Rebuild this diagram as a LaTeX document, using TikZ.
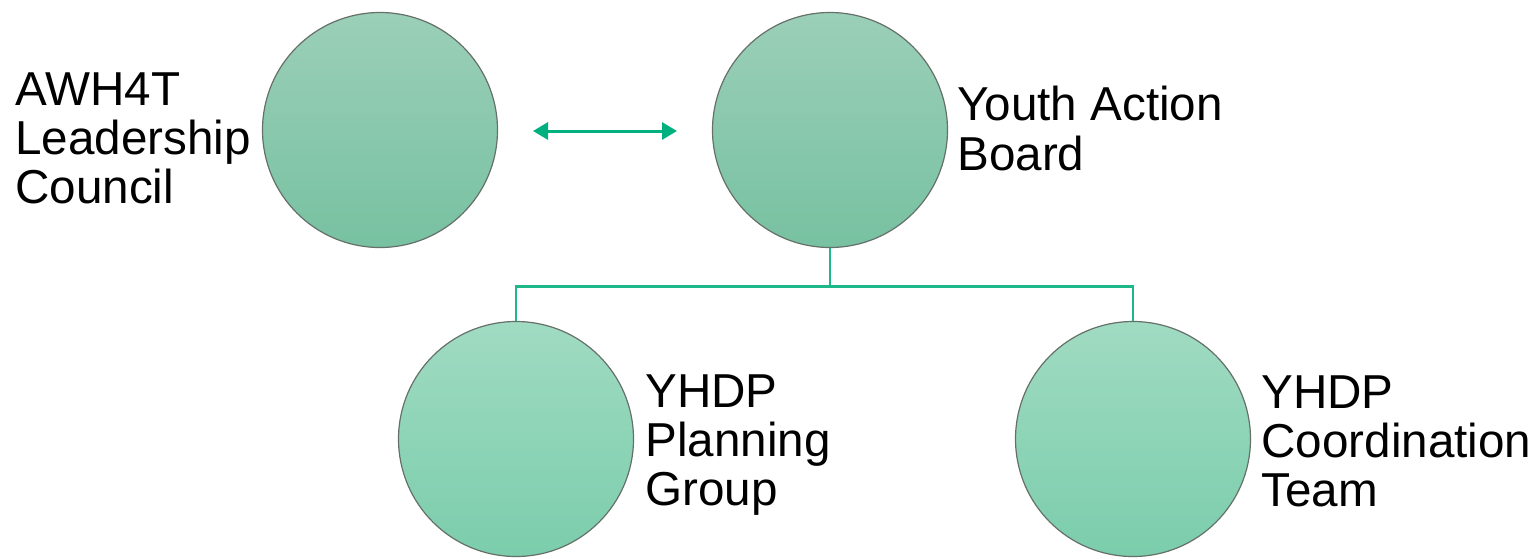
\documentclass[tikz,border=0pt]{standalone}
\usepackage{fontspec}
\setmainfont{Liberation Sans}
\usepackage{xcolor}
\usetikzlibrary{arrows.meta,positioning}

\definecolor{linkgreen}{HTML}{1DB78A}
\definecolor{arrowgreen}{HTML}{00B07F}
\definecolor{topA}{HTML}{9BCFB8}
\definecolor{botA}{HTML}{77C1A1}
\definecolor{topB}{HTML}{A0DBC2}
\definecolor{botB}{HTML}{7BCDAC}
\definecolor{rimgray}{HTML}{66706A}

\begin{document}
\begin{tikzpicture}[x=0.5pt, y=-0.5pt,
    unit/.style={draw=rimgray, line width=0.6pt, circle, minimum size=117.5pt, inner sep=0pt},
    label/.style={anchor=north west, inner sep=0pt, align=left, font=\fontsize{23.8pt}{24.6pt}\selectfont},
    link/.style={draw=linkgreen, line width=1.4pt}]
    \useasboundingbox (0,0) rectangle (1537,558);

    % Top row
    \node[unit, top color=topA, bottom color=botA] (awh) at (380,130) {};
    \node[unit, top color=topA, bottom color=botA] (yab) at (830,130) {};
    \node[label] (awhtext) at (15,72) {AWH4T\\Leadership\\Council};
    \node[label] (yabtext) at (957,86) {Youth Action\\Board};

    % Two-way link
    \coordinate (awhend) at (533,131);
    \coordinate (yabend) at (677,131);
    \draw[arrowgreen, line width=1.5pt, {Triangle[length=7.5pt, width=8.5pt]}-{Triangle[length=7.5pt, width=8.5pt]}] (awhend) -- (yabend);

    % Bottom row
    \node[unit, top color=topB, bottom color=botB] (ypg) at (516,439) {};
    \node[unit, top color=topB, bottom color=botB] (yct) at (1133,439) {};
    \node[label] (ypgtext) at (645,374) {YHDP\\Planning\\Group};
    \node[label] (ycttext) at (1261,375) {YHDP\\Coordination\\Team};

    % Tree connectors
    \draw[link] (yab.south) -- ++(0,38) -| (ypg.north);
    \draw[link] (yab.south) -- ++(0,38) -| (yct.north);
\end{tikzpicture}
\end{document}
